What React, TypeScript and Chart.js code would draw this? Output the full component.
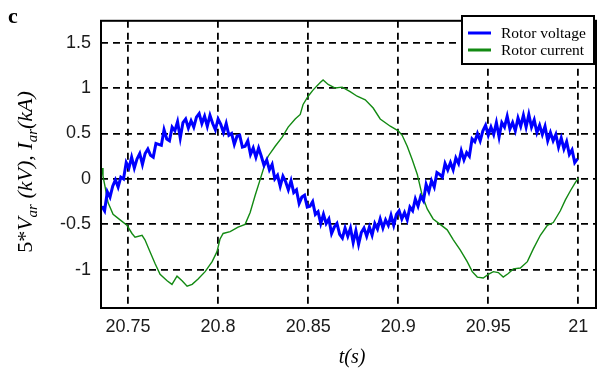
import React, { useEffect, useRef } from "react";
import { Chart, registerables } from "chart.js";

Chart.register(...registerables);

// Axis ticks and range
const X_TICKS = [20.75, 20.8, 20.85, 20.9, 20.95, 21];
const Y_TICKS = [-1, -0.5, 0, 0.5, 1, 1.5];
const X_MIN = 20.735;
const X_MAX = 21.0098;
const Y_MIN = -1.42;
const Y_MAX = 1.74;

// Rotor current I_ar (kA)
const currentTime = [
  20.7356, 20.7361, 20.7372, 20.7389, 20.7417, 20.7456, 20.7494, 20.7522, 20.7539, 20.7578,
  20.7594, 20.7622, 20.765, 20.7678, 20.7717, 20.7744, 20.7772, 20.78, 20.7828, 20.7856,
  20.7889, 20.7928, 20.7967, 20.7994, 20.8011, 20.8028, 20.8067, 20.8111, 20.815, 20.8178,
  20.8206, 20.8233, 20.8261, 20.8278, 20.8317, 20.8356, 20.8389, 20.8428, 20.8456, 20.8472,
  20.85, 20.8528, 20.8567, 20.8583, 20.8611, 20.865, 20.8689, 20.8733, 20.8772, 20.8817,
  20.8861, 20.89, 20.8956, 20.9, 20.9022, 20.905, 20.9078, 20.9106, 20.9133, 20.9161,
  20.9194, 20.9233, 20.9272, 20.9306, 20.9344, 20.9383, 20.9411, 20.9439, 20.9472, 20.95,
  20.9528, 20.9556, 20.9583, 20.9611, 20.9639, 20.9678, 20.9717, 20.975, 20.9789, 20.9828,
  20.9861, 20.99, 20.9928, 20.9956, 20.9983, 21.0,
];
const currentValue = [
  0.12, 0.03, -0.08, -0.26, -0.39, -0.45, -0.51, -0.6, -0.64, -0.62,
  -0.67, -0.8, -0.93, -1.05, -1.12, -1.16, -1.07, -1.12, -1.18, -1.16,
  -1.1, -1.02, -0.91, -0.8, -0.66, -0.6, -0.58, -0.53, -0.5, -0.37,
  -0.18, -0.01, 0.17, 0.25, 0.36, 0.46, 0.57, 0.66, 0.71, 0.82,
  0.91, 0.98, 1.06, 1.09, 1.04, 1.0, 1.01, 0.96, 0.91, 0.87,
  0.78, 0.66, 0.58, 0.53, 0.48, 0.36, 0.21, 0.05, -0.18, -0.33,
  -0.44, -0.5, -0.56, -0.67, -0.78, -0.91, -1.02, -1.08, -1.09, -1.05,
  -1.02, -1.03, -1.08, -1.04, -0.99, -0.98, -0.91, -0.77, -0.62, -0.51,
  -0.48, -0.35, -0.23, -0.13, -0.04, 0.01,
];

// Rotor voltage 5*V_ar (kV), sampled every 1.5 ms
const voltageStart = 20.7355;
const voltageStep = 0.0015;
const voltageValue = [
  -0.3, -0.35, -0.14, -0.2, -0.08, -0.01, -0.09, 0.02, 0.0, 0.18,
  0.12, 0.24, 0.12, 0.22, 0.28, 0.16, 0.28, 0.33, 0.26, 0.24,
  0.39, 0.38, 0.37, 0.54, 0.44, 0.42, 0.57, 0.53, 0.63, 0.45,
  0.62, 0.66, 0.56, 0.64, 0.57, 0.68, 0.72, 0.61, 0.69, 0.58,
  0.7, 0.61, 0.54, 0.66, 0.6, 0.51, 0.61, 0.48, 0.5, 0.38,
  0.47, 0.48, 0.35, 0.36, 0.42, 0.27, 0.34, 0.24, 0.34, 0.25,
  0.15, 0.21, 0.1, 0.16, 0.0, 0.04, -0.08, 0.03, -0.03, -0.12,
  -0.02, -0.15, -0.12, -0.27, -0.2, -0.18, -0.31, -0.3, -0.25, -0.39,
  -0.36, -0.49, -0.39, -0.49, -0.44, -0.6, -0.53, -0.49, -0.61, -0.65,
  -0.54, -0.63, -0.54, -0.7, -0.57, -0.72, -0.59, -0.54, -0.63, -0.53,
  -0.62, -0.49, -0.55, -0.44, -0.54, -0.45, -0.51, -0.4, -0.51, -0.39,
  -0.35, -0.44, -0.37, -0.45, -0.31, -0.35, -0.22, -0.3, -0.19, -0.24,
  -0.06, -0.14, -0.02, -0.09, 0.07, 0.05, 0.02, 0.17, 0.1, 0.18,
  0.1, 0.23, 0.17, 0.31, 0.21, 0.29, 0.25, 0.44, 0.41, 0.5,
  0.42, 0.53, 0.59, 0.48, 0.57, 0.49, 0.62, 0.46, 0.62, 0.57,
  0.69, 0.55, 0.62, 0.53, 0.67, 0.58, 0.7, 0.57, 0.71, 0.57,
  0.65, 0.51, 0.59, 0.49, 0.58, 0.42, 0.51, 0.42, 0.49, 0.35,
  0.45, 0.33, 0.41, 0.27, 0.32, 0.18, 0.22,
];

const SERIES_LABELS = ["Rotor voltage", "Rotor current"];
const SERIES_COLORS = ["#0000ff", "#138a13"];

const SERIF = "'Liberation Serif', 'Times New Roman', serif";
const SANS = "'Liberation Sans', Arial, sans-serif";

type Piece = { text: string; italic?: boolean; sub?: boolean };

const Y_TITLE: Piece[] = [
  { text: "5*" },
  { text: "V", italic: true },
  { text: "ar", italic: true, sub: true },
  { text: " (kV), ", italic: true },
  { text: "I", italic: true },
  { text: "ar", italic: true, sub: true },
  { text: "(kA)", italic: true },
];

function pieceFont(p: Piece, size: number) {
  const s = p.sub ? Math.round(size * 0.68) : size;
  return `${p.italic ? "italic " : ""}${s}px ${SERIF}`;
}

const decorations = {
  id: "decorations",
  afterDatasetsDraw(chart: any) {
    const { ctx, chartArea } = chart;
    const { left, top, right, bottom } = chartArea;
    ctx.save();

    // plot frame
    ctx.strokeStyle = "#000";
    ctx.lineWidth = 2;
    ctx.setLineDash([]);
    ctx.strokeRect(left, top, right - left, bottom - top);

    // panel letter
    ctx.fillStyle = "#000";
    ctx.font = `bold 22px ${SERIF}`;
    ctx.textAlign = "left";
    ctx.textBaseline = "alphabetic";
    ctx.fillText("c", 8, 23);

    // x-axis title
    ctx.font = `italic 20px ${SERIF}`;
    ctx.textAlign = "center";
    ctx.fillText("t(s)", 352, 363);

    // y-axis title with subscripts, rotated
    const size = 22;
    let total = 0;
    for (const p of Y_TITLE) {
      ctx.font = pieceFont(p, size);
      total += ctx.measureText(p.text).width;
    }
    ctx.save();
    ctx.translate(32, 172);
    ctx.rotate(-Math.PI / 2);
    ctx.textAlign = "left";
    let cx = -total / 2;
    for (const p of Y_TITLE) {
      ctx.font = pieceFont(p, size);
      ctx.fillText(p.text, cx, p.sub ? 5 : 0);
      cx += ctx.measureText(p.text).width;
    }
    ctx.restore();

    // legend box
    const bx = 462, by = 16, bw = 132, bh = 48;
    ctx.fillStyle = "#fff";
    ctx.fillRect(bx, by, bw, bh);
    ctx.strokeStyle = "#000";
    ctx.lineWidth = 2;
    ctx.strokeRect(bx, by, bw, bh);
    const rows = [33, 50];
    ctx.font = `15.5px ${SERIF}`;
    ctx.textAlign = "left";
    ctx.textBaseline = "middle";
    SERIES_LABELS.forEach((label, i) => {
      ctx.strokeStyle = SERIES_COLORS[i];
      ctx.lineWidth = 3;
      ctx.beginPath();
      ctx.moveTo(468, rows[i]);
      ctx.lineTo(491, rows[i]);
      ctx.stroke();
      ctx.fillStyle = "#000";
      ctx.fillText(label, 501, rows[i] + 1);
    });

    ctx.restore();
  },
};

export default function App() {
  const canvasRef = useRef<HTMLCanvasElement | null>(null);

  useEffect(() => {
    const canvas = canvasRef.current;
    if (!canvas) return;

    const voltagePoints = voltageValue.map((v, i) => ({
      x: voltageStart + i * voltageStep,
      y: v,
    }));
    const currentPoints = currentTime.map((t, i) => ({ x: t, y: currentValue[i] }));

    const tickFont = { family: SANS, size: 18 };

    const chart = new Chart(canvas, {
      type: "line",
      data: {
        datasets: [
          {
            label: SERIES_LABELS[0],
            data: voltagePoints,
            borderColor: SERIES_COLORS[0],
            borderWidth: 3,
            pointRadius: 0,
            tension: 0,
          },
          {
            label: SERIES_LABELS[1],
            data: currentPoints,
            borderColor: SERIES_COLORS[1],
            borderWidth: 1.4,
            pointRadius: 0,
            tension: 0,
          },
        ],
      },
      options: {
        animation: false,
        responsive: false,
        maintainAspectRatio: false,
        layout: { padding: { left: 0, right: 5, top: 16, bottom: 0 } },
        plugins: {
          legend: { display: false },
          tooltip: { enabled: false },
        },
        scales: {
          x: {
            type: "linear",
            min: X_MIN,
            max: X_MAX,
            afterBuildTicks: (s: any) => {
              s.ticks = X_TICKS.map((v) => ({ value: v }));
            },
            afterFit: (s: any) => {
              s.height = 62;
            },
            ticks: {
              autoSkip: false,
              maxRotation: 0,
              padding: 8,
              color: "#1a1a1a",
              font: tickFont,
              callback: (v: any) => String(v),
            },
            grid: { color: "#000", lineWidth: 1.8, drawTicks: false },
            border: { display: false, dash: [7, 5] },
          },
          y: {
            type: "linear",
            min: Y_MIN,
            max: Y_MAX,
            afterBuildTicks: (s: any) => {
              s.ticks = Y_TICKS.map((v) => ({ value: v }));
            },
            afterFit: (s: any) => {
              s.width = 101;
            },
            ticks: {
              autoSkip: false,
              padding: 10,
              color: "#1a1a1a",
              font: tickFont,
              callback: (v: any) => String(v),
            },
            grid: { color: "#000", lineWidth: 1.8, drawTicks: false },
            border: { display: false, dash: [7, 5] },
          },
        },
      },
      plugins: [decorations],
    });

    return () => chart.destroy();
  }, []);

  return (
    <div
      style={{
        position: "absolute",
        left: 0,
        top: 0,
        width: 601,
        height: 370,
        background: "#fff",
      }}
    >
      <canvas ref={canvasRef} width={601} height={370} style={{ display: "block" }} />
    </div>
  );
}
